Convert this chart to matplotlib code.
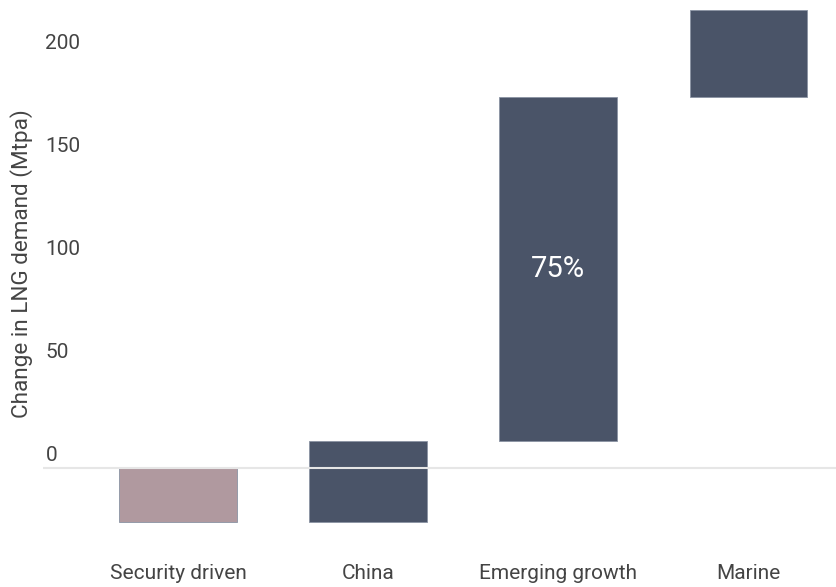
import matplotlib.pyplot as plt
import numpy as np

plt.rcParams['font.family'] = ['Roboto', 'DejaVu Sans']

# waterfall steps, Mtpa
categories = ["Security driven", "China", "Emerging growth", "Marine"]
changes = [-26.5, 39.5, 167.0, 42.0]
bar_labels = ["", "", "75%", ""]
colors = ["#b0999f", "#4a5468", "#4a5468", "#4a5468"]
yticks = [0, 50, 100, 150, 200]

starts = np.concatenate([[0], np.cumsum(changes)[:-1]])
x = np.arange(len(categories))

fig = plt.figure(figsize=(8.36, 5.87), dpi=100)
ax = fig.add_axes([43 / 836, 1 - 545 / 587, 1 - 43 / 836, 545 / 587])

ax.bar(x, changes, bottom=starts, width=0.62, color=colors,
       edgecolor="#8a93a3", linewidth=0.6, zorder=2)

for xi, s, c, lab in zip(x, starts, changes, bar_labels):
    if lab:
        ax.text(xi, s + c / 2, lab, ha="center", va="center",
                color="white", fontsize=21, zorder=4)

ax.axhline(0, color="#e6e6e6", lw=1.5, zorder=3)

ax.set_xlim(-0.71, 3.46)
ax.set_ylim(-37.5, 227)

ax.set_yticks(yticks)
ax.set_yticklabels([])
for t in yticks:
    ax.text(0.003, t + 5.8, str(t), transform=ax.get_yaxis_transform(),
            ha="left", va="center", fontsize=15, color="#444444")

ax.set_xticks(x)
ax.set_xticklabels(categories, fontsize=15, color="#444444")
ax.tick_params(axis="both", length=0, pad=14)

ax.set_ylabel("Change in LNG demand (Mtpa)", fontsize=16.2, color="#444444")
ax.yaxis.set_label_coords(-10 / 793, 0.516)

for sp in ax.spines.values():
    sp.set_visible(False)

fig.savefig("out.png", dpi=100)
